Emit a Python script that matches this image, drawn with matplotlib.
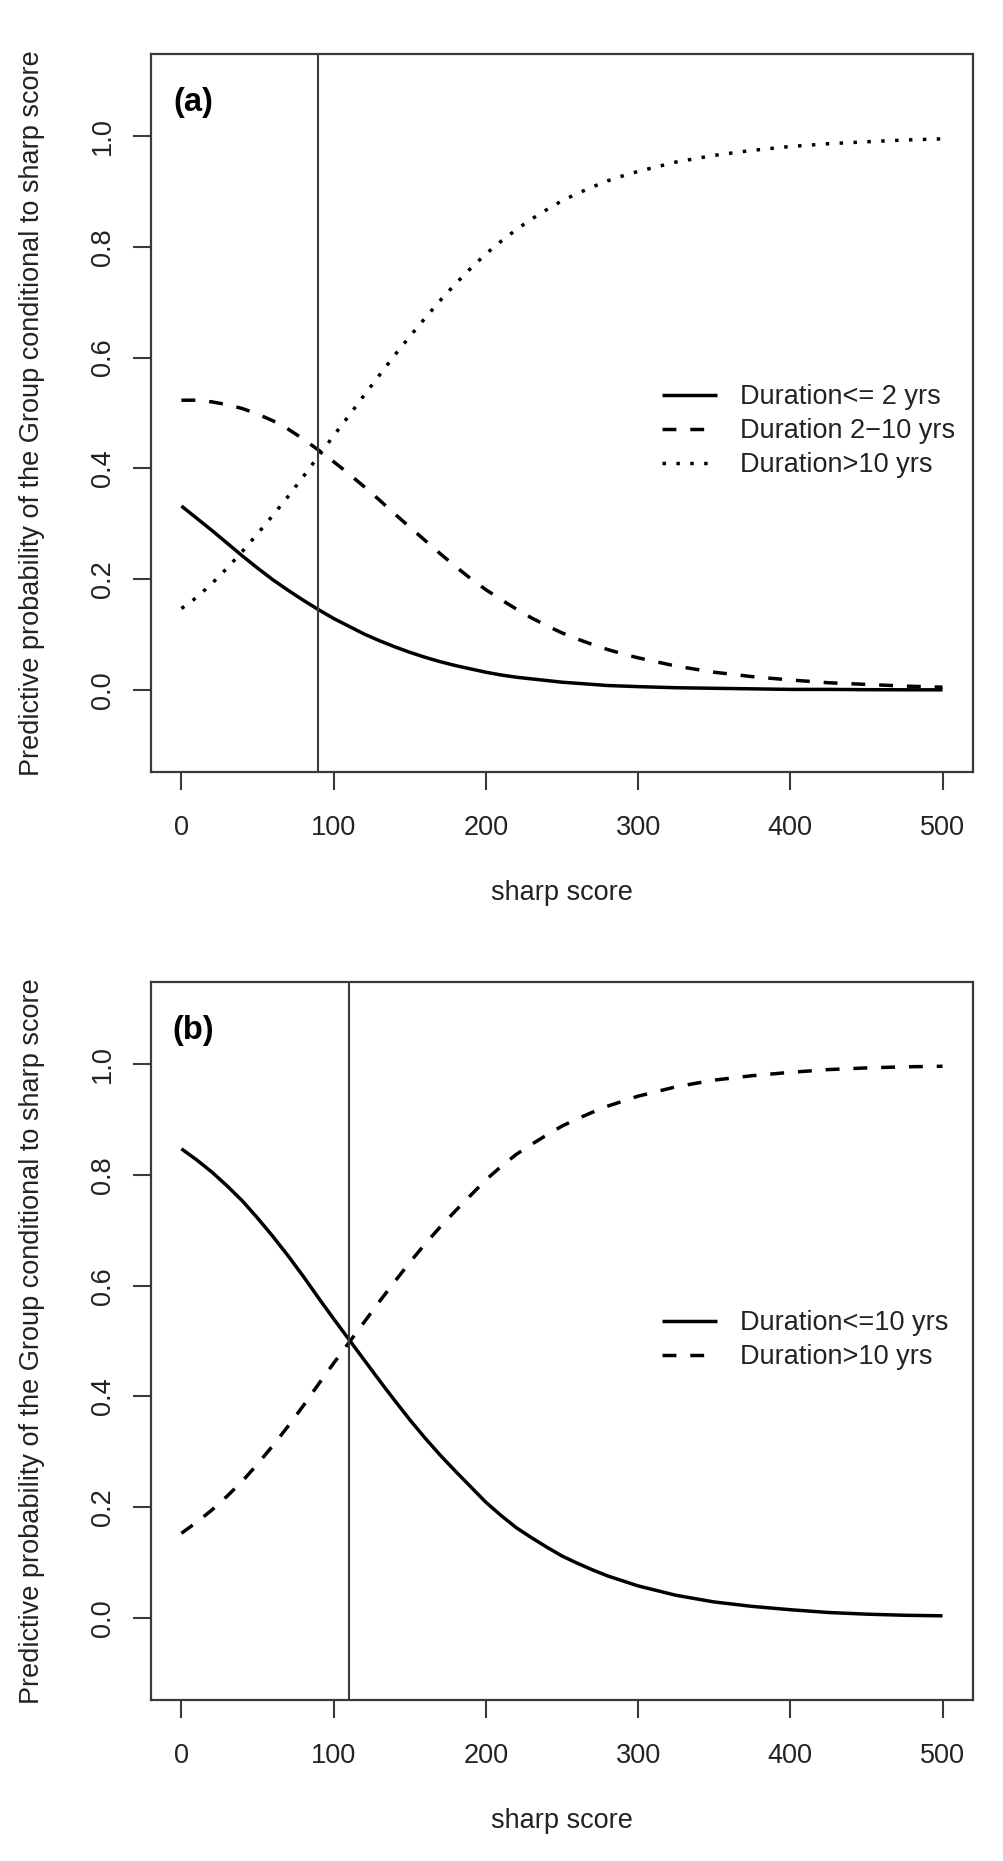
import matplotlib
matplotlib.use("Agg")
import matplotlib.pyplot as plt

plt.rcParams['font.family'] = ['Liberation Sans', 'DejaVu Sans']

score = [0, 10, 20, 30, 40, 50, 60, 70, 80, 90,
         100, 110, 120, 130, 140, 150, 160, 170, 180, 190,
         200, 210, 220, 230, 240, 250, 260, 270, 280, 290,
         300, 325, 350, 375, 400, 425, 450, 475, 500]

# panel (a): three duration groups
a_le2 = [0.332, 0.310, 0.288, 0.265, 0.242, 0.220, 0.199, 0.180, 0.162, 0.145,
         0.129, 0.115, 0.101, 0.089, 0.078, 0.068, 0.059, 0.051, 0.044, 0.038,
         0.032, 0.027, 0.023, 0.020, 0.017, 0.014, 0.012, 0.010, 0.008, 0.007,
         0.006, 0.004, 0.003, 0.002, 0.001, 0.001, 0.0005, 0.0003, 0.0002]
a_2to10 = [0.523, 0.523, 0.520, 0.515, 0.508, 0.498, 0.486, 0.471, 0.453, 0.433,
           0.412, 0.390, 0.367, 0.343, 0.318, 0.294, 0.270, 0.246, 0.223, 0.201,
           0.181, 0.163, 0.146, 0.130, 0.116, 0.103, 0.092, 0.082, 0.073, 0.065,
           0.058, 0.043, 0.032, 0.024, 0.018, 0.013, 0.010, 0.007, 0.005]
a_gt10 = [0.147, 0.167, 0.192, 0.220, 0.250, 0.282, 0.315, 0.349, 0.385, 0.422,
          0.459, 0.495, 0.532, 0.568, 0.604, 0.638, 0.671, 0.703, 0.733, 0.761,
          0.787, 0.810, 0.831, 0.850, 0.867, 0.883, 0.896, 0.908, 0.919, 0.928,
          0.936, 0.953, 0.965, 0.974, 0.981, 0.986, 0.9895, 0.9927, 0.9948]
a_labels = ['Duration<= 2 yrs', 'Duration 2\u221210 yrs', 'Duration>10 yrs']
a_cut = 90

# panel (b): two duration groups
b_le10 = [0.847, 0.827, 0.805, 0.780, 0.753, 0.722, 0.689, 0.654, 0.617, 0.578,
          0.540, 0.503, 0.466, 0.429, 0.393, 0.358, 0.325, 0.294, 0.265, 0.237,
          0.209, 0.185, 0.163, 0.145, 0.128, 0.112, 0.099, 0.087, 0.076, 0.067,
          0.058, 0.041, 0.029, 0.021, 0.015, 0.010, 0.007, 0.005, 0.004]
b_gt10 = [0.153, 0.173, 0.195, 0.220, 0.247, 0.278, 0.311, 0.346, 0.383, 0.422,
          0.460, 0.497, 0.534, 0.571, 0.607, 0.642, 0.675, 0.706, 0.735, 0.763,
          0.791, 0.815, 0.837, 0.855, 0.872, 0.888, 0.901, 0.913, 0.924, 0.933,
          0.942, 0.959, 0.971, 0.979, 0.985, 0.990, 0.993, 0.995, 0.996]
b_labels = ['Duration<=10 yrs', 'Duration>10 yrs']
b_cut = 110

xticks = [0, 100, 200, 300, 400, 500]
yticks = [0.0, 0.2, 0.4, 0.6, 0.8, 1.0]

FS = 19.5
INK = '#222222'
EDGE = '#3a3a3a'
STYLES = ['-', (0, (4, 4)), (0, (1, 3))]

fig = plt.figure(figsize=(10.04, 18.61), dpi=100)
ax_a = fig.add_axes([0.1504, 0.5852, 0.8187, 0.3858])
ax_b = fig.add_axes([0.1504, 0.0865, 0.8187, 0.3858])


def panel(ax, series, labels, cut, tag, leg_y):
    handles = []
    for vals, ls in zip(series, STYLES):
        h, = ax.plot(score, vals, color='black', lw=2.5, linestyle=ls,
                     dash_capstyle='butt', solid_capstyle='butt')
        handles.append(h)
    ax.axvline(cut, color=EDGE, lw=1.5)

    ax.set_xlim(-20, 520)
    ax.set_ylim(-0.148, 1.148)
    ax.set_xticks(xticks)
    ax.set_yticks(yticks)
    ax.set_xticklabels([str(t) for t in xticks])
    ax.set_yticklabels([f'{t:.1f}' for t in yticks])
    for s in ax.spines.values():
        s.set_linewidth(1.6)
        s.set_color(EDGE)
    ax.tick_params(axis='both', direction='out', length=13, width=1.5,
                   color=EDGE, labelsize=FS, labelcolor=INK)
    ax.tick_params(axis='x', pad=18)
    ax.tick_params(axis='y', pad=12)
    plt.setp(ax.get_yticklabels(), rotation=90, va='center')

    ax.set_xlabel('sharp score', fontsize=FS, color=INK)
    ax.xaxis.set_label_coords(0.5, -0.1685)
    ax.xaxis.label.set_va('center')

    ax.text(0.051, 0.932, tag, transform=ax.transAxes, fontsize=23.5,
            fontweight='bold', ha='center', va='center', color='black')

    leg = ax.legend(handles, labels, loc='center left',
                    bbox_to_anchor=(0.6217, leg_y), frameon=False,
                    borderpad=0, borderaxespad=0, handlelength=2.04,
                    handletextpad=0.85, labelspacing=0.3, fontsize=FS)
    for t in leg.get_texts():
        t.set_color(INK)


panel(ax_a, [a_le2, a_2to10, a_gt10], a_labels, a_cut, '(a)', 0.4745)
panel(ax_b, [b_le10, b_gt10], b_labels, b_cut, '(b)', 0.501)

ylab = 'Predictive probability of the Group conditional to sharp score'
for ax in (ax_a, ax_b):
    pos = ax.get_position()
    fig.text(32 / 1004, (pos.y0 + pos.y1) / 2, ylab, rotation=90,
             ha='center', va='center', fontsize=FS, color=INK)

fig.savefig('out.png', dpi=100)
